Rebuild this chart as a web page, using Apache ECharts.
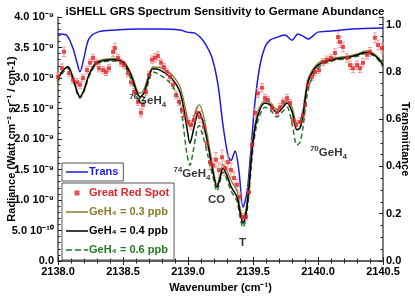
<!DOCTYPE html>
<html><head><meta charset="utf-8">
<script src="https://cdn.jsdelivr.net/npm/echarts@6/dist/echarts.min.js"></script>
<style>html,body{margin:0;padding:0;background:#fff}#c{width:415px;height:298px}</style>
</head><body><div id="c"></div>
<script>
// Radiance values are in units of 1e-9 Watt cm^-2 sr^-1 / cm^-1
const modelWave = [2138.000,2138.031,2138.077,2138.115,2138.146,2138.169,2138.200,2138.238,2138.292,2138.362,2138.438,2138.500,2138.538,2138.577,2138.608,2138.631,2138.662,2138.700,2138.731,2138.785,2138.862,2138.908,2138.938,2138.962,2138.992,2139.015,2139.038,2139.069,2139.085,2139.115,2139.154,2139.192,2139.223,2139.246,2139.269,2139.300,2139.331,2139.377,2139.400,2139.423,2139.446,2139.469,2139.500,2139.538,2139.592,2139.631,2139.685,2139.723,2139.762,2139.800,2139.838,2139.862,2139.885,2139.923,2139.977,2140.031,2140.108,2140.231,2140.308,2140.362,2140.415,2140.462,2140.500];
const model03 = [2.98,3.11,3.19,3.01,2.79,2.70,2.81,3.06,3.26,3.31,3.32,3.28,3.18,3.00,2.80,2.75,2.82,3.06,3.18,3.17,3.08,2.97,2.86,2.68,2.38,2.20,2.32,2.52,2.56,2.42,2.00,1.52,1.25,1.40,1.58,1.48,1.32,1.15,0.88,0.70,0.85,1.28,2.02,2.45,2.63,2.60,2.48,2.55,2.63,2.52,2.26,2.30,2.48,2.98,3.19,3.28,3.32,3.36,3.40,3.44,3.42,3.34,3.23];
const model04 = [2.97,3.10,3.18,3.00,2.78,2.69,2.80,3.05,3.24,3.29,3.30,3.26,3.15,2.96,2.76,2.69,2.76,3.02,3.15,3.13,3.02,2.90,2.77,2.56,2.18,1.93,2.11,2.39,2.44,2.28,1.90,1.46,1.21,1.35,1.52,1.40,1.22,1.05,0.80,0.62,0.78,1.20,1.95,2.39,2.59,2.56,2.43,2.50,2.59,2.45,2.15,2.18,2.39,2.93,3.16,3.25,3.30,3.34,3.38,3.42,3.40,3.32,3.21];
const model06 = [2.94,3.07,3.16,2.98,2.76,2.67,2.78,3.02,3.22,3.27,3.28,3.23,3.10,2.90,2.68,2.60,2.68,2.96,3.10,3.05,2.92,2.76,2.58,2.25,1.75,1.57,1.78,2.15,2.22,2.05,1.72,1.38,1.15,1.30,1.46,1.33,1.15,0.98,0.72,0.55,0.70,1.10,1.85,2.30,2.52,2.48,2.36,2.44,2.52,2.25,1.90,1.95,2.20,2.80,3.10,3.22,3.28,3.32,3.36,3.40,3.38,3.30,3.18];

const transWave = [2138.000,2138.062,2138.115,2138.146,2138.169,2138.200,2138.238,2138.315,2138.446,2138.631,2138.785,2138.938,2138.992,2139.054,2139.092,2139.131,2139.185,2139.231,2139.269,2139.308,2139.331,2139.362,2139.392,2139.423,2139.454,2139.485,2139.515,2139.554,2139.592,2139.631,2139.669,2139.746,2139.800,2139.846,2139.885,2139.923,2140.000,2140.108,2140.262,2140.500];
const transValue = [0.960,0.956,0.900,0.840,0.800,0.860,0.940,0.970,0.977,0.981,0.981,0.977,0.968,0.964,0.947,0.920,0.860,0.745,0.575,0.445,0.425,0.465,0.380,0.228,0.290,0.478,0.672,0.829,0.905,0.934,0.943,0.956,0.934,0.960,0.951,0.939,0.968,0.973,0.981,0.985];

const grsWave = [2138.000,2138.031,2138.046,2138.085,2138.115,2138.146,2138.169,2138.192,2138.223,2138.246,2138.269,2138.292,2138.315,2138.346,2138.369,2138.392,2138.423,2138.438,2138.462,2138.485,2138.508,2138.538,2138.562,2138.585,2138.615,2138.638,2138.654,2138.677,2138.700,2138.723,2138.746,2138.769,2138.792,2138.815,2138.838,2138.862,2138.885,2138.908,2138.931,2138.954,2138.977,2139.000,2139.023,2139.046,2139.069,2139.092,2139.123,2139.146,2139.169,2139.192,2139.215,2139.238,2139.262,2139.285,2139.308,2139.331,2139.354,2139.377,2139.400,2139.423,2139.446,2139.469,2139.492,2139.515,2139.538,2139.569,2139.592,2139.615,2139.646,2139.685,2139.708,2139.731,2139.762,2139.785,2139.808,2139.831,2139.862,2139.885,2139.900,2139.923,2139.954,2139.977,2140.008,2140.038,2140.069,2140.100,2140.131,2140.154,2140.169,2140.192,2140.223,2140.246,2140.269,2140.300,2140.323,2140.346,2140.377,2140.400,2140.438,2140.462,2140.492];
const grsRadiance = [3.02,3.16,3.43,3.08,2.97,2.93,2.89,3.00,3.13,3.25,3.33,3.25,3.16,3.13,3.10,3.16,3.43,3.49,3.33,3.25,3.21,3.08,2.93,2.77,2.61,2.43,2.56,2.77,3.05,3.30,3.33,3.36,3.25,3.18,3.10,3.02,2.89,2.72,2.61,2.48,2.38,2.28,2.23,2.31,2.43,2.36,2.20,1.93,1.62,1.57,1.66,1.49,1.70,1.52,1.62,1.49,1.36,1.25,1.05,0.72,0.72,1.13,1.90,2.43,2.75,2.84,2.67,2.64,2.51,2.44,2.52,2.61,2.67,2.59,2.31,2.23,2.28,2.39,2.56,2.89,3.02,3.10,3.13,3.26,3.30,3.33,3.41,3.67,3.59,3.51,3.33,3.21,3.16,3.21,3.16,3.25,3.38,3.43,3.66,3.54,3.49];
const grsError = [0.07,0.07,0.08,0.06,0.06,0.06,0.06,0.06,0.06,0.06,0.06,0.06,0.06,0.06,0.06,0.06,0.08,0.08,0.06,0.06,0.06,0.06,0.06,0.06,0.06,0.07,0.07,0.06,0.06,0.06,0.07,0.07,0.06,0.06,0.06,0.06,0.06,0.06,0.06,0.06,0.06,0.06,0.07,0.07,0.08,0.09,0.10,0.12,0.12,0.12,0.12,0.12,0.12,0.12,0.12,0.12,0.10,0.09,0.08,0.06,0.06,0.08,0.08,0.07,0.07,0.07,0.06,0.06,0.06,0.06,0.06,0.06,0.06,0.06,0.07,0.07,0.07,0.07,0.07,0.07,0.06,0.06,0.06,0.06,0.06,0.06,0.07,0.09,0.09,0.08,0.07,0.07,0.07,0.07,0.07,0.07,0.07,0.07,0.08,0.08,0.08];

// annotations: isotope superscript, base text, subscript
const annoWave = [2138.69, 2139.03, 2139.22, 2139.42, 2140.08];
const annoRad = [2.62, 1.43, 1.00, 0.30, 1.77];
const annoSup = ['76', '74', '', '', '70'];
const annoBase = ['GeH', 'GeH', 'CO', 'T', 'GeH'];
const annoSub = ['4', '4', '', '', '4'];

const seriesNames = ['Trans', 'Great Red Spot', 'GeH₄ = 0.3 ppb', 'GeH₄ = 0.4 ppb', 'GeH₄ = 0.6 ppb'];

const FONT = '"Liberation Sans", Arial, Helvetica, sans-serif';
const C_BLUE = '#1c1ce0', C_RED = '#e4252b', C_OLIVE = '#8a7b2c', C_BLACK = '#000', C_GREEN = '#237a23';

// legend icon shapes (corner anchors keep the 22x12 box)
const ICON_BOX = 'M0,0L0.01,0L0.01,0.01Z M22,12L21.99,12L21.99,11.99Z ';
const ICON_LINE = 'path://' + ICON_BOX + 'M0,5.3h22v1.4h-22z';
const ICON_DASH = 'path://' + ICON_BOX + 'M0,5.3h6v1.4h-6z M9,5.3h6v1.4h-6z M18,5.3h4v1.4h-4z';
const ICON_DOT = 'path://' + ICON_BOX + 'M8.5,3.5h5v5h-5z';

const zip = (a, b) => a.map((v, i) => [v, b[i]]);

const chart = echarts.init(document.getElementById('c'), null, {renderer: 'canvas'});

function radLabel(v) {
  if (Math.abs(v) < 1e-9) return '0.0';
  if (Math.abs(v - 0.5) < 1e-6) return '5.0 10⁻¹⁰';
  return v.toFixed(1) + ' 10⁻⁹';
}

const axisLine = {show: true, lineStyle: {color: '#555', width: 1.5}};
const tickStyle = {show: true, inside: true, length: 4, lineStyle: {color: '#222', width: 1}};
const minorStyle = {show: true, length: 2.5, lineStyle: {color: '#222', width: 1}};
const labelFont = {fontFamily: FONT, fontWeight: 'bold', fontSize: 11, color: '#000'};
const legendText = {fontFamily: FONT, fontWeight: 'bold', fontSize: 11, padding: [0, 0, 0, -4]};

chart.setOption({
  animation: false,
  backgroundColor: '#fff',
  title: {
    text: 'iSHELL GRS Spectrum Sensitivity to Germane Abundance',
    left: 220, top: 1, textAlign: 'center',
    textStyle: {fontFamily: FONT, fontWeight: 'bold', fontSize: 11.5, color: '#000'}
  },
  grid: {left: 58, right: 32, top: 17, bottom: 37, containLabel: false, outerBoundsMode: 'none'},
  legend: [
    {
      data: [{name: seriesNames[0], textStyle: {color: C_BLUE}, icon: ICON_LINE}],
      left: 62, top: 163, orient: 'vertical',
      borderColor: '#555', borderWidth: 1, padding: [3, 5, 3, 4],
      itemWidth: 22, itemHeight: 12, itemGap: 6,
      textStyle: legendText, selectedMode: false
    },
    {
      data: [
        {name: seriesNames[1], textStyle: {color: C_RED}, icon: ICON_DOT},
        {name: seriesNames[2], textStyle: {color: C_OLIVE}, icon: ICON_LINE},
        {name: seriesNames[3], textStyle: {color: C_BLACK}, icon: ICON_LINE},
        {name: seriesNames[4], textStyle: {color: C_GREEN}, icon: ICON_DASH}
      ],
      left: 62, top: 183, orient: 'vertical',
      borderColor: '#555', borderWidth: 1, padding: [4, 5, 4, 4],
      itemWidth: 22, itemHeight: 12, itemGap: 7,
      textStyle: legendText, selectedMode: false
    }
  ],
  xAxis: [
    {
      type: 'value', min: 2138, max: 2140.5, interval: 0.5, position: 'bottom',
      name: 'Wavenumber (cm⁻¹)', nameLocation: 'middle', nameGap: 21, nameMoveOverlap: false,
      nameTextStyle: labelFont,
      axisLine: axisLine, axisTick: tickStyle, minorTick: Object.assign({splitNumber: 5}, minorStyle),
      splitLine: {show: false},
      axisLabel: Object.assign({margin: 5, formatter: v => v.toFixed(1)}, labelFont)
    },
    {
      type: 'value', min: 2138, max: 2140.5, interval: 0.5, position: 'top',
      axisLine: axisLine, axisTick: tickStyle, minorTick: Object.assign({splitNumber: 5}, minorStyle),
      splitLine: {show: false}, axisLabel: {show: false}
    }
  ],
  yAxis: [
    {
      type: 'value', min: 0, max: 4, interval: 0.5, position: 'left',
      name: 'Radiance (Watt cm⁻² sr⁻¹ / cm-1)', nameLocation: 'middle', nameGap: 41, nameMoveOverlap: false,
      nameTextStyle: labelFont,
      axisLine: axisLine, axisTick: tickStyle, minorTick: Object.assign({splitNumber: 5}, minorStyle),
      splitLine: {show: false},
      axisLabel: Object.assign({margin: 4, formatter: radLabel}, labelFont)
    },
    {
      type: 'value', min: 0, max: 1.032, interval: 0.2, position: 'right',
      name: 'Transmittance', nameLocation: 'middle', nameGap: 17, nameRotate: -90, nameMoveOverlap: false,
      nameTextStyle: labelFont,
      axisLine: axisLine, axisTick: tickStyle, minorTick: Object.assign({splitNumber: 4}, minorStyle),
      splitLine: {show: false},
      axisLabel: Object.assign({margin: 3, showMaxLabel: false,
        formatter: v => (Math.abs(v / 0.2 - Math.round(v / 0.2)) < 1e-6 ? v.toFixed(1) : '')}, labelFont)
    }
  ],
  series: [
    {
      name: seriesNames[0], type: 'line', xAxisIndex: 0, yAxisIndex: 1,
      data: zip(transWave, transValue), smooth: 0.3, symbol: 'none',
      lineStyle: {color: C_BLUE, width: 1.5}, itemStyle: {color: C_BLUE}, z: 2
    },
    {
      name: 'err', type: 'custom', xAxisIndex: 0, yAxisIndex: 0,
      data: grsWave.map((w, i) => [w, grsRadiance[i] - grsError[i], grsRadiance[i] + grsError[i]]),
      renderItem: function (params, api) {
        const x = api.value(0);
        const p1 = api.coord([x, api.value(1)]);
        const p2 = api.coord([x, api.value(2)]);
        const st = {stroke: '#f29a9a', lineWidth: 1};
        return {type: 'group', children: [
          {type: 'line', shape: {x1: p1[0], y1: p1[1], x2: p2[0], y2: p2[1]}, style: st},
          {type: 'line', shape: {x1: p1[0] - 2, y1: p1[1], x2: p1[0] + 2, y2: p1[1]}, style: st},
          {type: 'line', shape: {x1: p2[0] - 2, y1: p2[1], x2: p2[0] + 2, y2: p2[1]}, style: st}
        ]};
      },
      silent: true, z: 3
    },
    {
      name: seriesNames[4], type: 'line', data: zip(modelWave, model06), smooth: 0.3, symbol: 'none',
      lineStyle: {color: C_GREEN, width: 1.5, type: [5, 3]}, itemStyle: {color: C_GREEN}, z: 4
    },
    {
      name: seriesNames[3], type: 'line', data: zip(modelWave, model04), smooth: 0.3, symbol: 'none',
      lineStyle: {color: C_BLACK, width: 1.5}, itemStyle: {color: C_BLACK}, z: 5
    },
    {
      name: seriesNames[2], type: 'line', data: zip(modelWave, model03), smooth: 0.3, symbol: 'none',
      lineStyle: {color: C_OLIVE, width: 1.3}, itemStyle: {color: C_OLIVE}, z: 4
    },
    {
      name: seriesNames[1], type: 'scatter', data: zip(grsWave, grsRadiance),
      symbol: 'rect', symbolSize: 4, itemStyle: {color: C_RED}, z: 6
    },
    {
      name: 'labels', type: 'scatter',
      data: annoWave.map((w, i) => [w, annoRad[i], i]),
      symbolSize: 0, silent: true, z: 7,
      label: {
        show: true, position: 'inside',
        formatter: p => {
          const i = p.data[2];
          return (annoSup[i] ? '{sup|' + annoSup[i] + '}' : '') + '{b|' + annoBase[i] + '}' +
                 (annoSub[i] ? '{sub|' + annoSub[i] + '}' : '');
        },
        rich: {
          b: {fontFamily: FONT, fontWeight: 'bold', fontSize: 11.5, color: '#000', lineHeight: 16},
          sup: {fontFamily: FONT, fontWeight: 'bold', fontSize: 8, color: '#000', verticalAlign: 'top', lineHeight: 16, padding: [0, 0, 6, 0]},
          sub: {fontFamily: FONT, fontWeight: 'bold', fontSize: 8, color: '#000', verticalAlign: 'bottom', lineHeight: 16, padding: [5, 0, 0, 0]}
        }
      }
    }
  ]
});
</script>
</body></html>
